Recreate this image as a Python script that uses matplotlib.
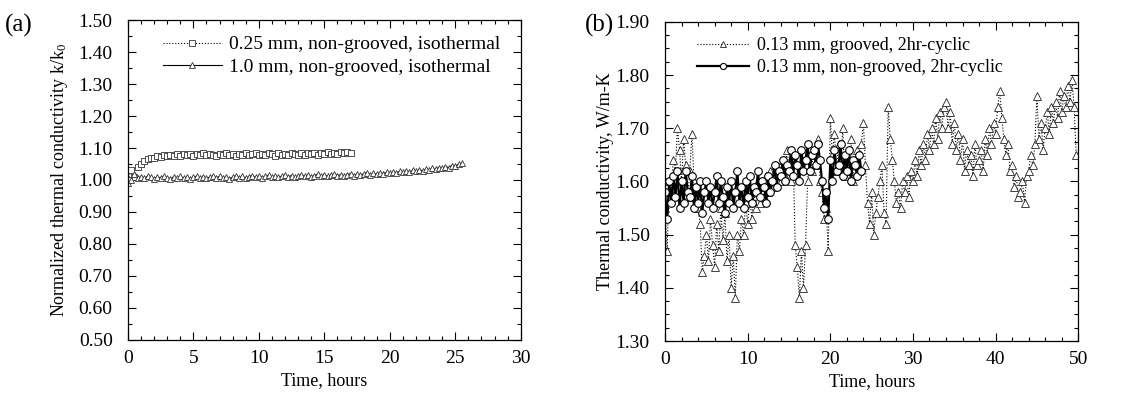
import numpy as np
import matplotlib
matplotlib.use("Agg")
import matplotlib.pyplot as plt
from matplotlib.ticker import MultipleLocator, FormatStrFormatter

plt.rcParams['font.family'] = ['Liberation Serif', 'DejaVu Serif']
plt.rcParams['mathtext.fontset'] = 'custom'
plt.rcParams['mathtext.rm'] = 'Liberation Serif'
plt.rcParams['mathtext.it'] = 'Liberation Serif'

# ---------------- Panel (a) data ----------------
a_step = 0.25
a_sq_label = "0.25 mm, non-grooved, isothermal"
a_sq = [1.00, 1.03, 1.01, 1.04,
        1.05, 1.06, 1.065, 1.07,
        1.068, 1.075, 1.072, 1.078,
        1.074, 1.079, 1.076, 1.081,
        1.075, 1.08, 1.077, 1.082,
        1.076, 1.081, 1.078, 1.083,
        1.077, 1.082, 1.079, 1.075,
        1.08, 1.077, 1.083, 1.078,
        1.081, 1.076, 1.082, 1.079,
        1.083, 1.077, 1.08, 1.084,
        1.078, 1.082, 1.079, 1.085,
        1.08, 1.076, 1.083, 1.079,
        1.082, 1.078, 1.084, 1.08,
        1.077, 1.083, 1.079, 1.085,
        1.08, 1.084, 1.078, 1.083,
        1.081, 1.086, 1.08, 1.084,
        1.082, 1.088, 1.083, 1.087,
        1.085]
a_tri_label = "1.0 mm, non-grooved, isothermal"
a_tri = [0.99, 1.00, 1.02, 1.005,
         1.01, 1.005, 1.012, 1.008,
         1.004, 1.01, 1.006, 1.012,
         1.007, 1.003, 1.01, 1.006,
         1.011, 1.005, 1.009, 1.004,
         1.008, 1.012, 1.006, 1.01,
         1.005, 1.009, 1.013, 1.007,
         1.011, 1.006, 1.01, 1.004,
         1.009, 1.013, 1.007, 1.011,
         1.006, 1.01, 1.014, 1.008,
         1.012, 1.007, 1.011, 1.015,
         1.009, 1.013, 1.008, 1.012,
         1.016, 1.01, 1.014, 1.009,
         1.013, 1.017, 1.011, 1.015,
         1.01, 1.014, 1.018, 1.012,
         1.016, 1.011, 1.015, 1.019,
         1.013, 1.017, 1.012, 1.016,
         1.02, 1.014, 1.018, 1.015,
         1.019, 1.022, 1.017, 1.021,
         1.018, 1.022, 1.02, 1.024,
         1.021, 1.025, 1.022, 1.027,
         1.024, 1.028, 1.025, 1.03,
         1.027, 1.032, 1.029, 1.034,
         1.031, 1.036, 1.033, 1.039,
         1.036, 1.042, 1.039, 1.045,
         1.043, 1.049, 1.052]

# ---------------- Panel (b) data ----------------
b_step = 0.25
b_gr_label = "0.13 mm, grooved, 2hr-cyclic"
b_gr = [1.55, 1.47, 1.60, 1.58,
        1.64, 1.62, 1.70, 1.66,
        1.60, 1.68, 1.63, 1.57,
        1.62, 1.69, 1.60, 1.58,
        1.55, 1.52, 1.43, 1.46,
        1.50, 1.45, 1.53, 1.48,
        1.44, 1.52, 1.47, 1.55,
        1.49, 1.54, 1.45, 1.50,
        1.40, 1.46, 1.38, 1.50,
        1.47, 1.53, 1.50, 1.56,
        1.52, 1.57, 1.53, 1.58,
        1.55, 1.60, 1.56, 1.59,
        1.57, 1.61, 1.58, 1.62,
        1.59, 1.63, 1.60, 1.62,
        1.60, 1.64, 1.61, 1.66,
        1.63, 1.60, 1.65, 1.48,
        1.44, 1.38, 1.47, 1.40,
        1.48, 1.60, 1.65, 1.62,
        1.66, 1.63, 1.68, 1.60,
        1.58, 1.53, 1.55, 1.47,
        1.72, 1.65, 1.69, 1.62,
        1.67, 1.63, 1.70, 1.61,
        1.65, 1.62, 1.68, 1.60,
        1.64, 1.66, 1.62, 1.67,
        1.71, 1.63, 1.56, 1.52,
        1.58, 1.50, 1.54, 1.57,
        1.60, 1.63, 1.54, 1.52,
        1.74, 1.68, 1.64, 1.60,
        1.56, 1.58, 1.55, 1.60,
        1.58, 1.61, 1.57, 1.62,
        1.60, 1.64, 1.61, 1.66,
        1.63, 1.67, 1.64, 1.69,
        1.66, 1.70, 1.67, 1.72,
        1.68, 1.73, 1.70, 1.74,
        1.75, 1.70, 1.73, 1.67,
        1.71, 1.66, 1.69, 1.64,
        1.68, 1.62, 1.66, 1.63,
        1.65, 1.61, 1.67, 1.63,
        1.64, 1.66, 1.62, 1.68,
        1.65, 1.70, 1.67, 1.71,
        1.69, 1.74, 1.77, 1.72,
        1.68, 1.65, 1.67, 1.62,
        1.63, 1.59, 1.61, 1.57,
        1.58, 1.60, 1.56, 1.61,
        1.62, 1.65, 1.63, 1.67,
        1.76, 1.68, 1.71, 1.66,
        1.70, 1.73, 1.69, 1.74,
        1.71, 1.75, 1.72, 1.77,
        1.73, 1.76, 1.74, 1.78,
        1.75, 1.79, 1.74, 1.65]
b_ng_label = "0.13 mm, non-grooved, 2hr-cyclic"
b_ng = [1.58, 1.53, 1.60, 1.56,
        1.61, 1.57, 1.62, 1.55,
        1.60, 1.56, 1.62, 1.58,
        1.57, 1.61, 1.55, 1.59,
        1.56, 1.60, 1.54, 1.58,
        1.60, 1.56, 1.59, 1.55,
        1.58, 1.61, 1.56, 1.60,
        1.57, 1.54, 1.59, 1.56,
        1.60, 1.55, 1.58, 1.62,
        1.56, 1.59, 1.55, 1.60,
        1.57, 1.61, 1.56, 1.59,
        1.58, 1.62, 1.57, 1.60,
        1.59, 1.56, 1.61, 1.58,
        1.60, 1.63, 1.59, 1.62,
        1.61, 1.64, 1.60, 1.63,
        1.62, 1.66, 1.61, 1.65,
        1.63, 1.60, 1.66, 1.62,
        1.64, 1.67, 1.62, 1.65,
        1.66, 1.63, 1.67, 1.64,
        1.60, 1.55, 1.58, 1.53,
        1.64, 1.60, 1.66, 1.62,
        1.63, 1.67, 1.61, 1.65,
        1.62, 1.66, 1.60, 1.64,
        1.63, 1.61, 1.65, 1.62]

a_x_sq = np.arange(len(a_sq)) * a_step
a_x_tri = np.arange(len(a_tri)) * a_step
b_x_gr = np.arange(len(b_gr)) * b_step
b_x_ng = np.arange(len(b_ng)) * b_step

fig = plt.figure(figsize=(11.32, 3.97), dpi=100)
axa = fig.add_axes([0.113, 0.1436, 0.347, 0.806])
axb = fig.add_axes([0.5875, 0.141, 0.365, 0.804])

FS = 14

def style(ax):
    ax.tick_params(which='both', direction='in', top=True, right=True,
                   labelsize=FS, width=0.8)
    ax.tick_params(which='major', length=6)
    ax.tick_params(which='minor', length=3)
    ax.tick_params(axis='y', which='major', pad=11)
    ax.tick_params(axis='x', which='major', pad=7)
    for s in ax.spines.values():
        s.set_linewidth(0.9)

# Panel (a)
axa.plot(a_x_sq, a_sq, ls=':', lw=0.8, color='black', marker='s', ms=5,
         mfc='white', mec='#333333', mew=0.6, label=a_sq_label)
axa.plot(a_x_tri, a_tri, ls='-', lw=0.8, color='black', marker='^', ms=5,
         mfc='white', mec='#333333', mew=0.6, label=a_tri_label)
axa.set_xlim(0, 30)
axa.set_ylim(0.5, 1.5)
axa.xaxis.set_major_locator(MultipleLocator(5))
axa.xaxis.set_minor_locator(MultipleLocator(1))
axa.yaxis.set_major_locator(MultipleLocator(0.1))
axa.yaxis.set_minor_locator(MultipleLocator(0.05))
axa.yaxis.set_major_formatter(FormatStrFormatter('%.2f'))
axa.set_xlabel("Time, hours", fontsize=13, labelpad=4)
axa.set_ylabel("Normalized thermal conductivity k/k$_0$", fontsize=13, labelpad=6)
style(axa)
axa.legend(loc='upper left', bbox_to_anchor=(0.07, 0.975), frameon=False,
           fontsize=FS, handlelength=3.0, handletextpad=0.4, labelspacing=0.25,
           borderaxespad=0, markerscale=0.8)
fig.text(0.004, 0.92, "(a)", fontsize=18)

# Panel (b)
axb.plot(b_x_gr, b_gr, ls=':', lw=0.8, color='black', marker='^', ms=5.5,
         mfc='white', mec='#222222', mew=0.6, label=b_gr_label)
axb.plot(b_x_ng, b_ng, ls='-', lw=1.6, color='black', marker='o', ms=5.5,
         mfc='white', mec='black', mew=0.8, label=b_ng_label)
axb.set_xlim(0, 50)
axb.set_ylim(1.3, 1.9)
axb.xaxis.set_major_locator(MultipleLocator(10))
axb.xaxis.set_minor_locator(MultipleLocator(2))
axb.yaxis.set_major_locator(MultipleLocator(0.1))
axb.yaxis.set_minor_locator(MultipleLocator(0.025))
axb.yaxis.set_major_formatter(FormatStrFormatter('%.2f'))
axb.set_xlabel("Time, hours", fontsize=13, labelpad=4)
axb.set_ylabel("Thermal conductivity, W/m-K", fontsize=13, labelpad=1)
style(axb)
axb.legend(loc='upper left', bbox_to_anchor=(0.06, 0.975), frameon=False,
           fontsize=13, handlelength=2.9, handletextpad=0.4, labelspacing=0.3,
           borderaxespad=0, markerscale=0.8)
fig.text(0.517, 0.92, "(b)", fontsize=18)

fig.savefig("out.png", dpi=100)
